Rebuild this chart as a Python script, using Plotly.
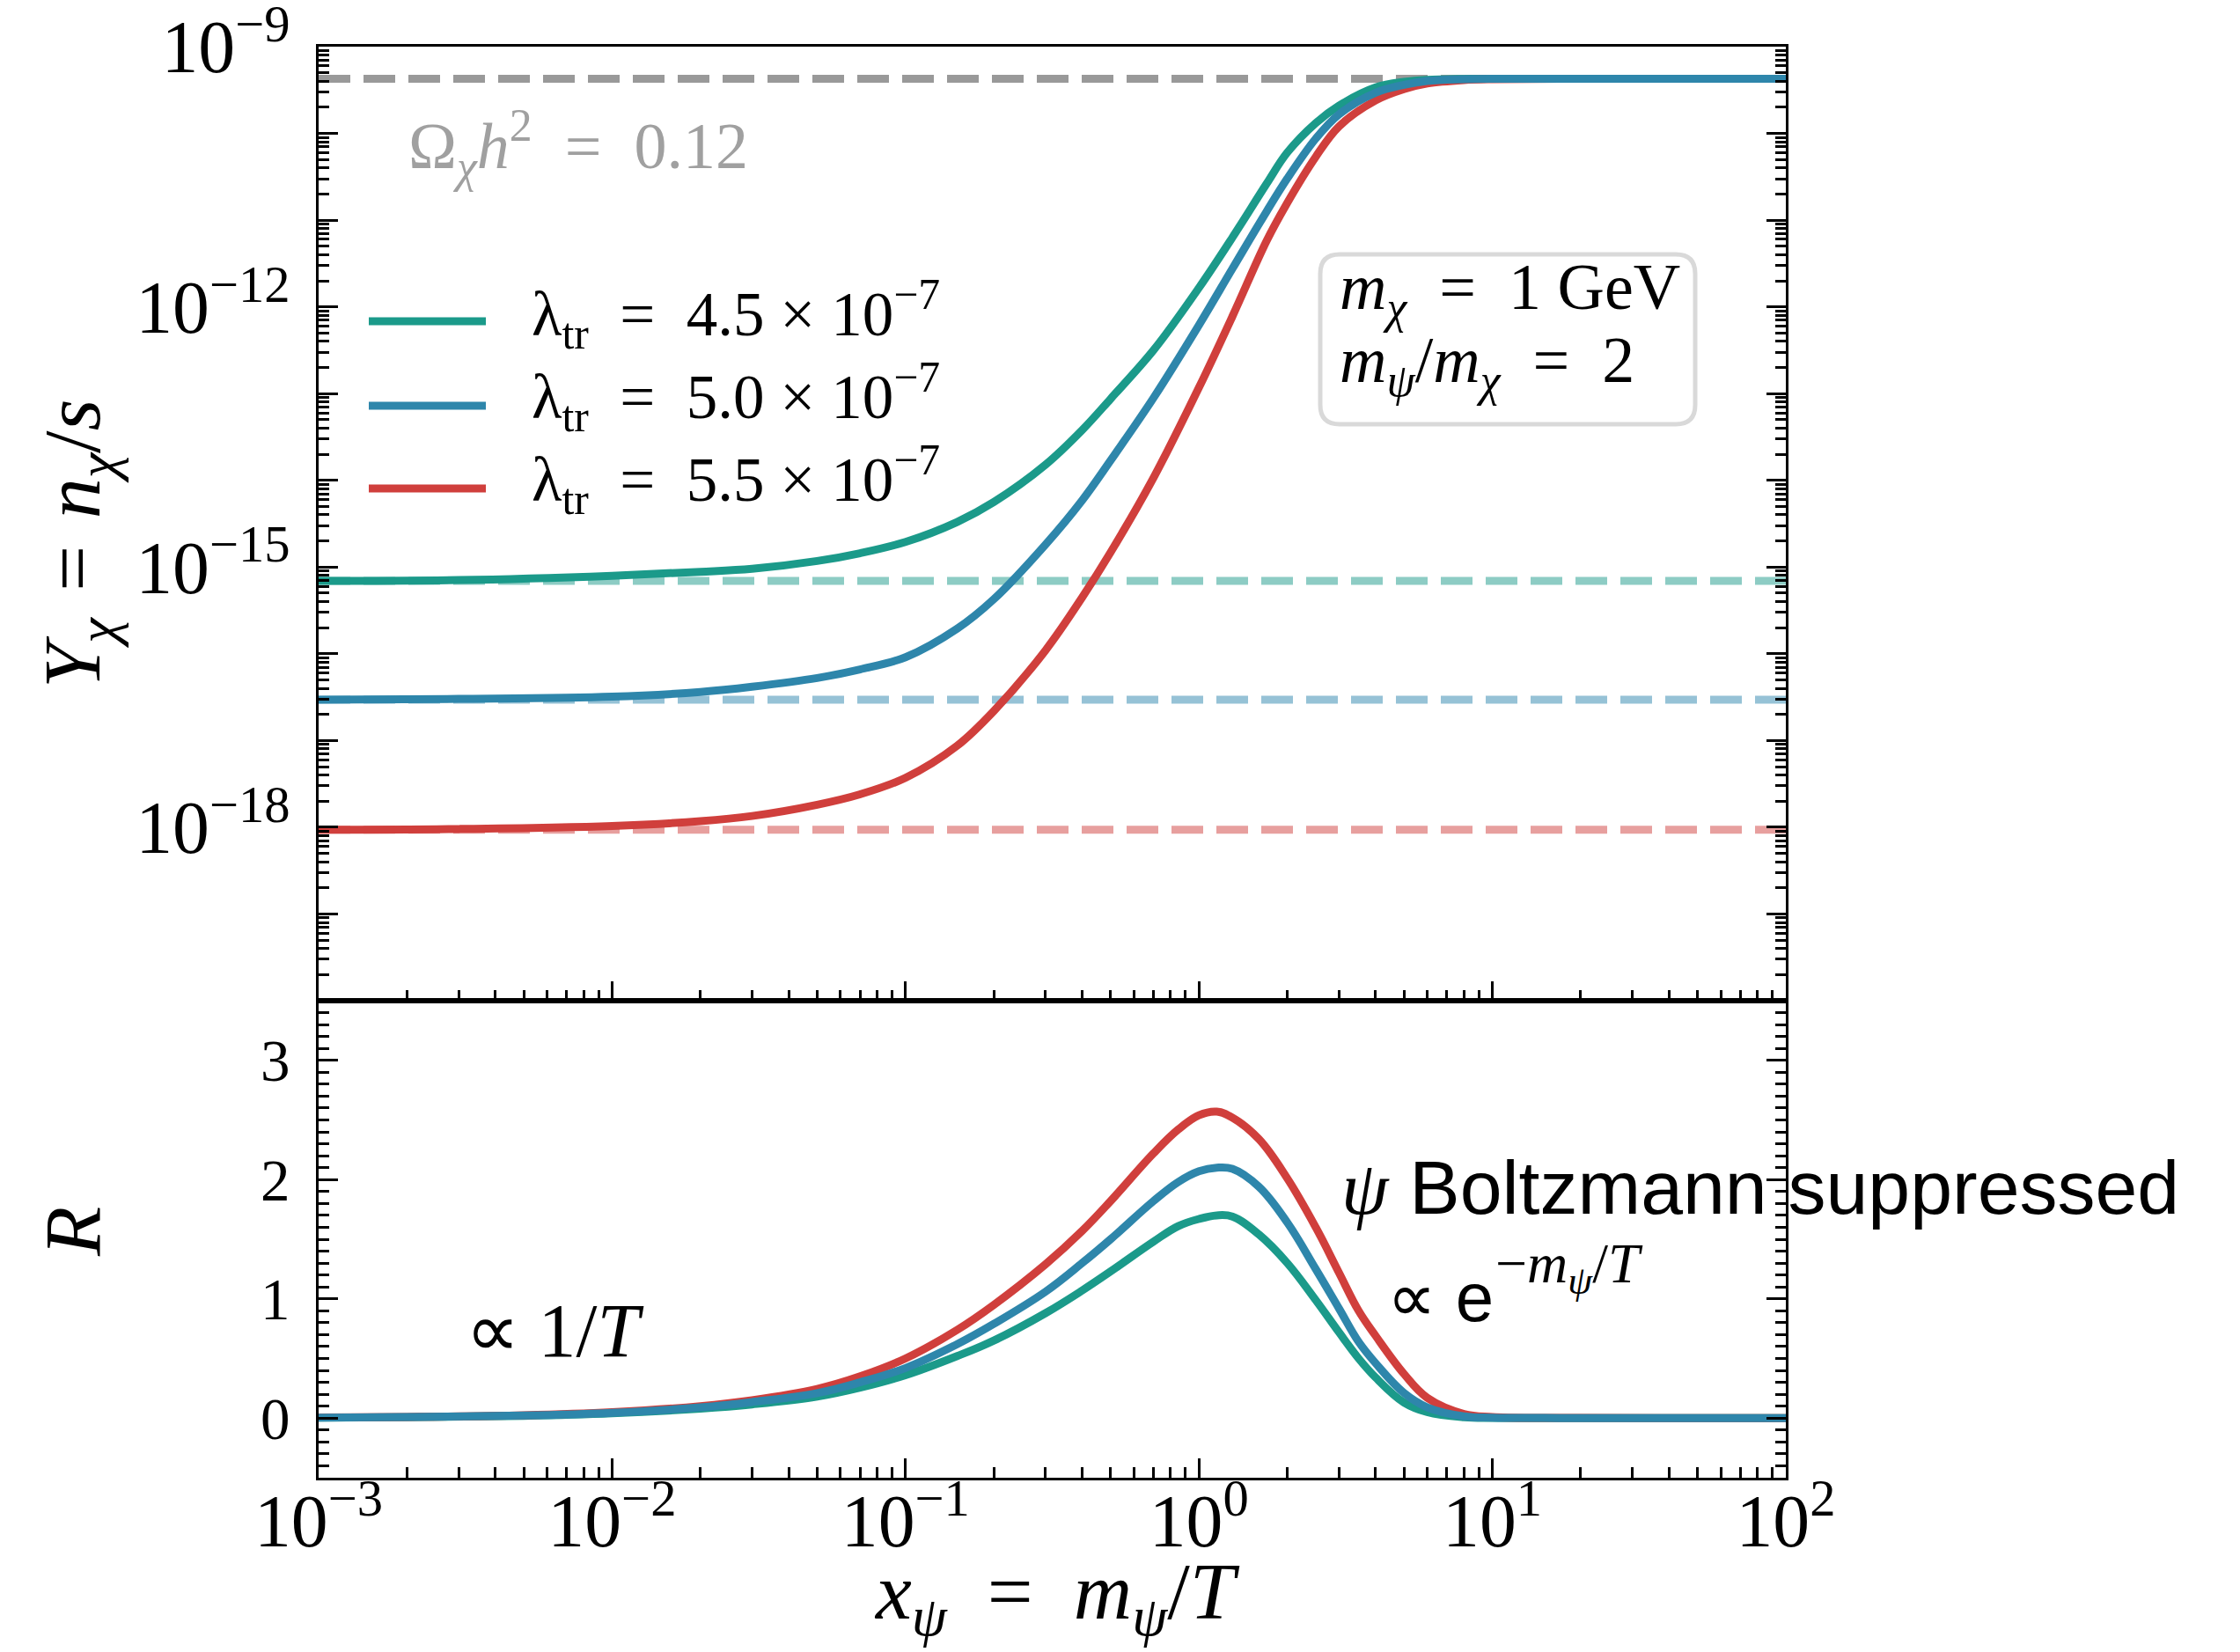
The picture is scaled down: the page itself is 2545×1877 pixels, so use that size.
import plotly.graph_objects as go

# ---------------- data ----------------
x_Y = [0.001, 0.003, 0.01, 0.02, 0.03, 0.05, 0.07, 0.1, 0.15, 0.2, 0.3, 0.4, 0.5, 0.7,
       1.0, 1.3, 1.7, 2.0, 2.5, 3.0, 4.0, 5.0, 6.0, 8.0, 10, 20, 50, 100]
log10_Y_45 = [-15.16, -15.15, -15.10, -15.055, -15.02, -14.93, -14.84, -14.71, -14.48, -14.25,
              -13.82, -13.42, -13.06, -12.50, -11.78, -11.20, -10.58, -10.22, -9.88, -9.68,
              -9.47, -9.405, -9.382, -9.372, -9.37, -9.37, -9.37, -9.37]
log10_Y_50 = [-16.53, -16.52, -16.495, -16.44, -16.38, -16.28, -16.18, -16.04, -15.71, -15.37,
              -14.74, -14.23, -13.77, -13.05, -12.21, -11.56, -10.90, -10.52, -10.06, -9.78,
              -9.53, -9.44, -9.395, -9.375, -9.37, -9.37, -9.37, -9.37]
log10_Y_55 = [-18.03, -18.02, -17.985, -17.93, -17.87, -17.74, -17.62, -17.43, -17.06, -16.66,
              -15.96, -15.35, -14.83, -13.97, -12.93, -12.11, -11.24, -10.80, -10.27, -9.92,
              -9.62, -9.49, -9.425, -9.385, -9.375, -9.37, -9.37, -9.37]

# initial (horizontal dashed) levels and relic-density level
log10_Y0 = [-15.16, -16.53, -18.03]
log10_Y_relic = -9.37
x_line = [0.001, 100]

x_R = [0.001, 0.002, 0.005, 0.01, 0.02, 0.03, 0.05, 0.07, 0.1, 0.15, 0.2, 0.3, 0.4, 0.5, 0.7,
       0.85, 1.0, 1.15, 1.3, 1.6, 2.0, 2.5, 3.0, 3.5, 4.0, 5.0, 6.0, 8.0, 10, 15, 20, 50, 100]
R_45 = [0.004, 0.008, 0.019, 0.04, 0.08, 0.115, 0.18, 0.255, 0.36, 0.52, 0.65, 0.88, 1.07, 1.23,
        1.48, 1.61, 1.67, 1.70, 1.69, 1.54, 1.30, 0.99, 0.72, 0.50, 0.34, 0.13, 0.05, 0.008,
        0.002, 0.0, 0.0, 0.0, 0.0]
R_50 = [0.0045, 0.009, 0.022, 0.045, 0.09, 0.135, 0.21, 0.30, 0.42, 0.62, 0.79, 1.06, 1.30, 1.50,
        1.82, 1.98, 2.07, 2.10, 2.09, 1.94, 1.64, 1.25, 0.92, 0.64, 0.46, 0.21, 0.09, 0.015,
        0.004, 0.001, 0.0, 0.0, 0.0]
R_55 = [0.005, 0.0095, 0.024, 0.05, 0.10, 0.15, 0.245, 0.35, 0.50, 0.74, 0.95, 1.29, 1.57, 1.82,
        2.22, 2.42, 2.54, 2.57, 2.52, 2.34, 2.01, 1.60, 1.22, 0.90, 0.69, 0.37, 0.17, 0.035,
        0.01, 0.002, 0.001, 0.0, 0.0]

labels = ["λ<sub>tr</sub>\u2002=\u20024.5 × 10<sup>−7</sup>",
          "λ<sub>tr</sub>\u2002=\u20025.0 × 10<sup>−7</sup>",
          "λ<sub>tr</sub>\u2002=\u20025.5 × 10<sup>−7</sup>"]
colors = ["#1b9a8a", "#2e86ab", "#d03f3c"]
light_colors = ["#8dccc4", "#96c2d6", "#e79f9e"]

# decades of the upper y axis whose label is hidden (only every third decade is labelled)
y_hidden_exp = [-20, -19, -17, -16, -14, -13, -11, -10]
y_alias = {f"10<sup>\u2212{-e}</sup>": "" for e in y_hidden_exp}

# ---------------- figure ----------------
OFF = 8                       # default page margin of the html body
W, H = 2545 - OFF, 1877 - OFF
L, T = 362 - OFF, 53 - OFF
PW, PH = 1667, 1626
R, B = W - L - PW, H - T - PH
LW = 9
SERIF = "Liberation Serif"
SANS = "Liberation Sans"

fig = go.Figure()

# dashed reference lines
fig.add_trace(go.Scatter(x=x_line, y=[10 ** log10_Y_relic] * 2, mode="lines",
                         line=dict(color="#999999", width=LW, dash="36px,15px"),
                         xaxis="x", yaxis="y", showlegend=False, hoverinfo="skip"))
for lv, c in zip(log10_Y0, light_colors):
    fig.add_trace(go.Scatter(x=x_line, y=[10 ** lv] * 2, mode="lines",
                             line=dict(color=c, width=LW, dash="36px,15px"),
                             xaxis="x", yaxis="y", showlegend=False, hoverinfo="skip"))

Ys = [log10_Y_45, log10_Y_50, log10_Y_55]
Rs = [R_45, R_50, R_55]
order = [0, 2, 1]  # blue drawn on top
for i in order:
    fig.add_trace(go.Scatter(x=x_Y, y=[10 ** v for v in Ys[i]], mode="lines",
                             line=dict(color=colors[i], width=LW, shape="spline", smoothing=1.0),
                             xaxis="x", yaxis="y", showlegend=False, name=labels[i]))
for i in order:
    fig.add_trace(go.Scatter(x=x_R, y=Rs[i], mode="lines",
                             line=dict(color=colors[i], width=LW, shape="spline", smoothing=1.1),
                             xaxis="x2", yaxis="y2", showlegend=False, name=labels[i]))

tickfont = dict(family=SERIF, size=67, color="black")
common = dict(showline=True, linewidth=3, linecolor="black", showgrid=False, zeroline=False,
              ticks="inside", ticklen=22, tickwidth=3, tickcolor="black", tickfont=tickfont,
              ticklabeloverflow="allow", automargin=False)
minor_log = dict(ticks="inside", ticklen=12, tickwidth=2.5, tickcolor="black", dtick="D1")

fig.update_layout(
    width=W, height=H, autosize=False,
    margin=dict(l=L, r=R, t=T, b=B, autoexpand=False),
    paper_bgcolor="white", plot_bgcolor="white",
    font=dict(family=SERIF, color="black"),
    showlegend=False,
    xaxis=dict(type="log", range=[-3, 2], domain=[0, 1], anchor="y", matches="x2",
               showticklabels=False, tickmode="linear", tick0=0, dtick=1, mirror=True,
               minor=minor_log, **common),
    yaxis=dict(type="log", range=[-20, -8.9995], domain=[1 / 3, 1], anchor="x",
               tickmode="linear", tick0=0, dtick=1, exponentformat="power",
               labelalias=y_alias, mirror="allticks", ticklabelstandoff=16,
               minor=minor_log, **common),
    xaxis2=dict(type="log", range=[-3, 2], domain=[0, 1], anchor="y2",
                tickmode="linear", tick0=0, dtick=1, exponentformat="power",
                labelalias={"1": "10<sup>0</sup>", "10": "10<sup>1</sup>"},
                mirror=True, ticklabelstandoff=-22,
                minor=minor_log, **common),
    yaxis2=dict(range=[-0.5, 3.5], domain=[0, 1 / 3], anchor="x2",
                tickmode="linear", tick0=0, dtick=1, mirror="allticks", ticklabelstandoff=16,
                minor=dict(ticks="inside", ticklen=12, tickwidth=2.5, tickcolor="black",
                           tickmode="linear", tick0=0, dtick=0.1),
                **common),
)


def px(fx):   # reference full-image pixel -> paper x
    return (fx - OFF - L) / PW


def py(fy):   # reference full-image pixel -> paper y
    return (T + PH - (fy - OFF)) / PH


ann = []
# axis titles
ann.append(dict(text="<i>Y</i><sub><i>χ</i></sub>\u2004=\u2004<i>n</i><sub><i>χ</i></sub>/<i>s</i>",
                x=px(89), y=py(618), textangle=-90, font=dict(family=SERIF, size=92)))
ann.append(dict(text="<i>R</i>", x=px(83), y=py(1400), textangle=-90,
                font=dict(family=SERIF, size=92)))
ann.append(dict(text="<i>x</i><sub><i>ψ</i></sub>\u2002=\u2002<i>m</i><sub><i>ψ</i></sub>/<i>T</i>",
                x=px(1201), y=py(1814), font=dict(family=SERIF, size=92)))
# relic density
ann.append(dict(text="Ω<sub><i>χ</i></sub><i>h</i><sup>2</sup>\u2002=\u20020.12", x=px(462), y=py(166),
                xanchor="left", font=dict(family=SERIF, size=74, color="#a0a0a0")))
# parameter box text
ann.append(dict(text="<i>m</i><sub><i>χ</i></sub>\u2002=\u20021 GeV", x=px(1520), y=py(331),
                xanchor="left", font=dict(family=SERIF, size=74)))
ann.append(dict(text="<i>m</i><sub><i>ψ</i></sub>/<i>m</i><sub><i>χ</i></sub>\u2002=\u20022", x=px(1520),
                y=py(415), xanchor="left", font=dict(family=SERIF, size=74)))
# legend text
for lab, fy in zip(labels, [357, 451, 545]):
    ann.append(dict(text=lab, x=px(602), y=py(fy), xanchor="left",
                    font=dict(family=SERIF, size=71)))
# lower panel annotations
ann.append(dict(text="<span style=\"font-family:'Liberation Serif'\"><i>ψ</i></span> Boltzmann suppressed",
                x=px(1522), y=py(1349), xanchor="left", font=dict(family=SANS, size=86)))
ann.append(dict(text="∝ e", x=px(1574), y=py(1474), xanchor="left",
                font=dict(family=SANS, size=78)))
ann.append(dict(text="−<i>m</i><sub><i>ψ</i></sub>/<i>T</i>", x=px(1697), y=py(1440),
                xanchor="left", font=dict(family=SERIF, size=64)))
ann.append(dict(text="∝ 1/<i>T</i>", x=px(527), y=py(1512), xanchor="left",
                font=dict(family=SERIF, size=86)))

for a in ann:
    a.setdefault("xanchor", "center")
    a.update(xref="paper", yref="paper", showarrow=False, yanchor="middle")
fig.update_layout(annotations=ann)

# legend samples (manual legend)
shapes = []
for c, fy in zip(colors, [365, 461, 555]):
    shapes.append(dict(type="line", xref="paper", yref="paper", x0=px(419), x1=px(552),
                       y0=py(fy), y1=py(fy), line=dict(color=c, width=LW)))

# rounded parameter box
x0, x1, y0, y1 = px(1500), px(1926), py(482), py(289)
rx, ry = 22 / PW, 22 / PH
path = (f"M {x0+rx},{y1} L {x1-rx},{y1} Q {x1},{y1} {x1},{y1-ry} L {x1},{y0+ry} "
        f"Q {x1},{y0} {x1-rx},{y0} L {x0+rx},{y0} Q {x0},{y0} {x0},{y0+ry} "
        f"L {x0},{y1-ry} Q {x0},{y1} {x0+rx},{y1} Z")
shapes.append(dict(type="path", xref="paper", yref="paper", path=path,
                   line=dict(color="#d9d9d9", width=5), fillcolor="rgba(255,255,255,0.85)"))
fig.update_layout(shapes=shapes)

fig.write_html("out.html")
